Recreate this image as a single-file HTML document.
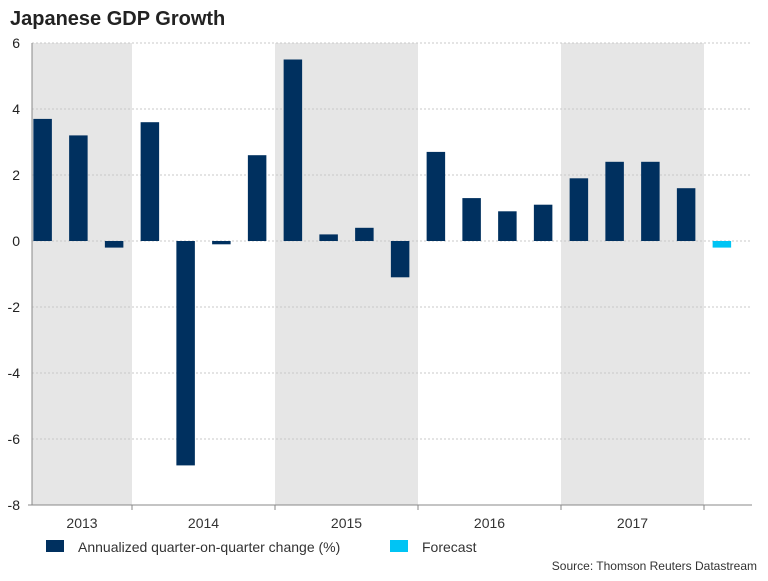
<!DOCTYPE html>
<html><head><meta charset="utf-8"><style>
body{margin:0;background:#fff;width:768px;height:576px;overflow:hidden;font-family:"Liberation Sans",Arial,sans-serif}
</style></head><body>
<svg id="c" width="768" height="576">
<text x="10" y="25" font-size="20" font-weight="bold" fill="#222">Japanese GDP Growth</text>
<text x="757" y="570" font-size="12" fill="#333" text-anchor="end">Source: Thomson Reuters Datastream</text>
</svg>
<script>
const years=["2013","2014","2015","2016","2017"];
const values=[3.7,3.2,-0.2,3.6,-6.8,-0.1,2.6,5.5,0.2,0.4,-1.1,2.7,1.3,0.9,1.1,1.9,2.4,2.4,1.6];
const forecast=[-0.2];
const yTicks=[6,4,2,0,-2,-4,-6,-8];
const svg=document.getElementById('c');
const NS='http://www.w3.org/2000/svg';
const L=32,R=752,yearStart=-11,yearW=143,qW=yearW/4;
const y=v=>241-v*33;
const qx=i=>yearStart+(i+1)*qW; // i=0 -> 2013 Q2
function mk(t,a,p){const e=document.createElementNS(NS,t);for(const k in a)e.setAttribute(k,a[k]);(p||svg).appendChild(e);return e;}
const g=mk('g',{});
// shaded bands
years.forEach((yr,i)=>{
  const x0=Math.max(L,yearStart+i*yearW),x1=yearStart+(i+1)*yearW;
  if(i%2===0){const r=mk('rect',{x:x0,y:y(6),width:x1-x0,height:y(-8)-y(6),fill:'#e6e6e6'},g);
  
  }
  const t=mk('text',{x:(x0+x1)/2,y:528,'font-size':14,fill:'#333','text-anchor':'middle'},g);t.textContent=yr;
  
  
  mk('line',{x1:x1,x2:x1,y1:y(-8),y2:y(-8)+5,stroke:'#888'},g);
});
yTicks.forEach(v=>{
  mk('line',{x1:L,x2:R,y1:y(v),y2:y(v),stroke:'#c8c8c8','stroke-dasharray':'2,2'},g);
  const t=mk('text',{x:20,y:y(v)+5,'font-size':14,fill:'#222','text-anchor':'end'},g);t.textContent=v;
  
  
});
mk('line',{x1:L,x2:L,y1:y(6),y2:y(-8),stroke:'#888'},g);
mk('line',{x1:L-4,x2:R,y1:y(-8),y2:y(-8),stroke:'#888'},g);
const bw=18.5;
values.forEach((v,i)=>{
  const cx=qx(i)+qW/2;
  const r=mk('rect',{x:cx-bw/2,y:Math.min(y(v),y(0)),width:bw,height:Math.abs(y(v)-y(0)),fill:'#00305f'},g);
  
  
});
forecast.forEach((v,j)=>{
  const i=values.length+j,cx=qx(i)+qW/2;
  const r=mk('rect',{x:cx-bw/2,y:Math.min(y(v),y(0)),width:bw,height:Math.abs(y(v)-y(0)),fill:'#00c4f4'},g);
  
  
});
// legend
const l1=mk('rect',{x:46,y:540,width:18,height:12,fill:'#00305f'},g);


const t1=mk('text',{x:78,y:552,'font-size':14,fill:'#333'},g);t1.textContent='Annualized quarter-on-quarter change (%)';


const l2=mk('rect',{x:390,y:540,width:18,height:12,fill:'#00c4f4'},g);


const t2=mk('text',{x:422,y:552,'font-size':14,fill:'#333'},g);t2.textContent='Forecast';


</script>
</body></html>
